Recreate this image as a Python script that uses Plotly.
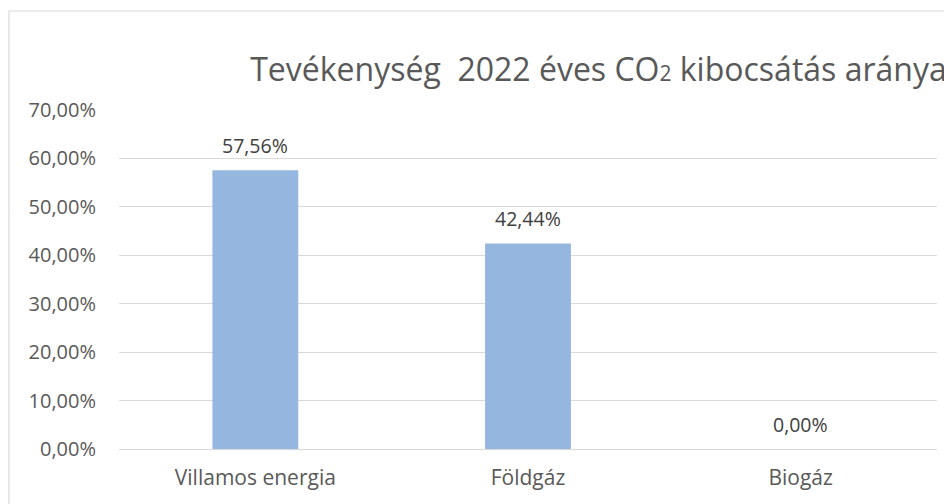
import plotly.graph_objects as go

categories = ["Villamos energia", "Földgáz", "Biogáz"]
values = [0.5756, 0.4244, 0.0]
labels = ["57,56%", "42,44%", "0,00%"]
y_ticks = [0, 0.1, 0.2, 0.3, 0.4, 0.5, 0.6, 0.7]
title_text = "Tevékenység&nbsp; 2022 éves CO<span style='font-size:21px'>2</span> kibocsátás aránya"

FONT = "Open Sans"
GREY = "#595959"

fig = go.Figure()
fig.add_trace(go.Bar(x=categories, y=values, marker=dict(color="#95b7df", line=dict(width=0)),
                     width=0.315, hoverinfo="skip"))

for c, v, t in zip(categories, values, labels):
    fig.add_annotation(x=c, y=v, text=t, showarrow=False, yanchor="middle", yshift=25,
                       font=dict(family=FONT, size=19.5, color="#404040"))

# chart frame
fig.add_shape(type="rect", xref="paper", yref="paper", x0=-0.1345, x1=1.2, y0=-0.4, y1=1.292,
              line=dict(color="#d9d9d9", width=1.2), fillcolor="rgba(0,0,0,0)", layer="below")

fig.update_layout(
    width=944, height=496,
    margin=dict(l=111, r=15, t=102, b=55),
    paper_bgcolor="white", plot_bgcolor="white",
    separators=", ",
    showlegend=False,
    title=dict(text=title_text, x=0.6255, xanchor="center", y=0.875, yanchor="middle",
               font=dict(family=FONT, size=32, color=GREY)),
    xaxis=dict(showgrid=False, showline=False, ticks="", ticklabelstandoff=14,
               tickfont=dict(family=FONT, size=21, color=GREY)),
    yaxis=dict(range=[0, 0.7], tickvals=y_ticks, tickformat=".2%", showgrid=True,
               gridcolor="#d9d9d9", gridwidth=1.3, zeroline=True, zerolinecolor="#d9d9d9",
               zerolinewidth=1.3, showline=False, ticks="", ticklabelstandoff=22,
               tickfont=dict(family=FONT, size=20, color=GREY)),
)

fig.write_html("out.html")
